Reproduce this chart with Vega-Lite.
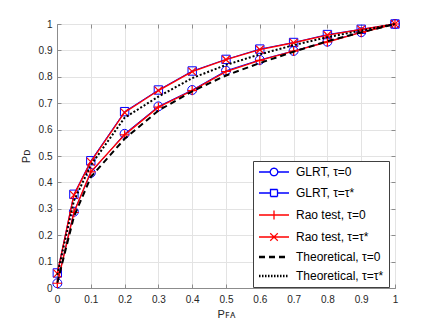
{
  "$schema": "https://vega.github.io/schema/vega-lite/v6.json",
  "width": 338,
  "height": 264,
  "autosize": {"type": "none"},
  "padding": {"left": 57, "top": 24, "right": 41, "bottom": 41},
  "background": "white",
  "config": {
    "font": "Liberation Sans",
    "view": {"stroke": "#8c8c8c", "strokeWidth": 1},
    "axis": {
      "labelFont": "Liberation Sans",
      "labelFontSize": 10,
      "labelColor": "#262626",
      "titleFont": "Liberation Sans",
      "titleFontSize": 11,
      "titleFontWeight": "normal",
      "titleColor": "#262626",
      "domainColor": "#8c8c8c",
      "tickColor": "#8c8c8c",
      "gridColor": "#e3e3e3",
      "gridWidth": 1
    },
    "legend": {
      "orient": "none",
      "legendX": 196,
      "legendY": 137,
      "padding": 5,
      "fillColor": "white",
      "strokeColor": "#404040",
      "symbolSize": 100,
      "symbolStrokeWidth": 1.3,
      "labelFont": "Liberation Sans",
      "labelFontSize": 12,
      "labelColor": "black",
      "labelOffset": 26,
      "rowPadding": 7,
      "title": null
    }
  },
  "data": {
    "values": [
      {"x": 0.001, "y": 0.018, "series": "GLRT, τ=0"},
      {"x": 0.05, "y": 0.289, "series": "GLRT, τ=0"},
      {"x": 0.1, "y": 0.436, "series": "GLRT, τ=0"},
      {"x": 0.2, "y": 0.584, "series": "GLRT, τ=0"},
      {"x": 0.3, "y": 0.688, "series": "GLRT, τ=0"},
      {"x": 0.4, "y": 0.75, "series": "GLRT, τ=0"},
      {"x": 0.5, "y": 0.823, "series": "GLRT, τ=0"},
      {"x": 0.6, "y": 0.864, "series": "GLRT, τ=0"},
      {"x": 0.7, "y": 0.898, "series": "GLRT, τ=0"},
      {"x": 0.8, "y": 0.933, "series": "GLRT, τ=0"},
      {"x": 0.9, "y": 0.969, "series": "GLRT, τ=0"},
      {"x": 1, "y": 1, "series": "GLRT, τ=0"},
      {"x": 0.001, "y": 0.057, "series": "GLRT, τ=τ*"},
      {"x": 0.05, "y": 0.355, "series": "GLRT, τ=τ*"},
      {"x": 0.1, "y": 0.482, "series": "GLRT, τ=τ*"},
      {"x": 0.2, "y": 0.668, "series": "GLRT, τ=τ*"},
      {"x": 0.3, "y": 0.75, "series": "GLRT, τ=τ*"},
      {"x": 0.4, "y": 0.822, "series": "GLRT, τ=τ*"},
      {"x": 0.5, "y": 0.866, "series": "GLRT, τ=τ*"},
      {"x": 0.6, "y": 0.905, "series": "GLRT, τ=τ*"},
      {"x": 0.7, "y": 0.93, "series": "GLRT, τ=τ*"},
      {"x": 0.8, "y": 0.96, "series": "GLRT, τ=τ*"},
      {"x": 0.9, "y": 0.98, "series": "GLRT, τ=τ*"},
      {"x": 1, "y": 1, "series": "GLRT, τ=τ*"},
      {"x": 0.001, "y": 0.018, "series": "Rao test, τ=0"},
      {"x": 0.05, "y": 0.286, "series": "Rao test, τ=0"},
      {"x": 0.1, "y": 0.44, "series": "Rao test, τ=0"},
      {"x": 0.2, "y": 0.58, "series": "Rao test, τ=0"},
      {"x": 0.3, "y": 0.685, "series": "Rao test, τ=0"},
      {"x": 0.4, "y": 0.748, "series": "Rao test, τ=0"},
      {"x": 0.5, "y": 0.82, "series": "Rao test, τ=0"},
      {"x": 0.6, "y": 0.862, "series": "Rao test, τ=0"},
      {"x": 0.7, "y": 0.897, "series": "Rao test, τ=0"},
      {"x": 0.8, "y": 0.932, "series": "Rao test, τ=0"},
      {"x": 0.9, "y": 0.968, "series": "Rao test, τ=0"},
      {"x": 1, "y": 1, "series": "Rao test, τ=0"},
      {"x": 0.001, "y": 0.055, "series": "Rao test, τ=τ*"},
      {"x": 0.05, "y": 0.352, "series": "Rao test, τ=τ*"},
      {"x": 0.1, "y": 0.478, "series": "Rao test, τ=τ*"},
      {"x": 0.2, "y": 0.665, "series": "Rao test, τ=τ*"},
      {"x": 0.3, "y": 0.748, "series": "Rao test, τ=τ*"},
      {"x": 0.4, "y": 0.82, "series": "Rao test, τ=τ*"},
      {"x": 0.5, "y": 0.865, "series": "Rao test, τ=τ*"},
      {"x": 0.6, "y": 0.903, "series": "Rao test, τ=τ*"},
      {"x": 0.7, "y": 0.929, "series": "Rao test, τ=τ*"},
      {"x": 0.8, "y": 0.958, "series": "Rao test, τ=τ*"},
      {"x": 0.9, "y": 0.979, "series": "Rao test, τ=τ*"},
      {"x": 1, "y": 1, "series": "Rao test, τ=τ*"},
      {"x": 0.001, "y": 0.02, "series": "Theoretical, τ=0"},
      {"x": 0.05, "y": 0.27, "series": "Theoretical, τ=0"},
      {"x": 0.1, "y": 0.42, "series": "Theoretical, τ=0"},
      {"x": 0.2, "y": 0.565, "series": "Theoretical, τ=0"},
      {"x": 0.3, "y": 0.672, "series": "Theoretical, τ=0"},
      {"x": 0.4, "y": 0.745, "series": "Theoretical, τ=0"},
      {"x": 0.5, "y": 0.805, "series": "Theoretical, τ=0"},
      {"x": 0.6, "y": 0.852, "series": "Theoretical, τ=0"},
      {"x": 0.7, "y": 0.895, "series": "Theoretical, τ=0"},
      {"x": 0.8, "y": 0.935, "series": "Theoretical, τ=0"},
      {"x": 0.9, "y": 0.968, "series": "Theoretical, τ=0"},
      {"x": 1, "y": 1, "series": "Theoretical, τ=0"},
      {"x": 0.001, "y": 0.05, "series": "Theoretical, τ=τ*"},
      {"x": 0.05, "y": 0.33, "series": "Theoretical, τ=τ*"},
      {"x": 0.1, "y": 0.465, "series": "Theoretical, τ=τ*"},
      {"x": 0.2, "y": 0.645, "series": "Theoretical, τ=τ*"},
      {"x": 0.3, "y": 0.725, "series": "Theoretical, τ=τ*"},
      {"x": 0.4, "y": 0.795, "series": "Theoretical, τ=τ*"},
      {"x": 0.5, "y": 0.845, "series": "Theoretical, τ=τ*"},
      {"x": 0.6, "y": 0.885, "series": "Theoretical, τ=τ*"},
      {"x": 0.7, "y": 0.92, "series": "Theoretical, τ=τ*"},
      {"x": 0.8, "y": 0.95, "series": "Theoretical, τ=τ*"},
      {"x": 0.9, "y": 0.975, "series": "Theoretical, τ=τ*"},
      {"x": 1, "y": 1, "series": "Theoretical, τ=τ*"}
    ]
  },
  "resolve": {"axis": {"x": "independent", "y": "independent"}},
  "layer": [
    {
      "encoding": {
        "x": {
          "field": "x", "type": "quantitative",
          "scale": {"domain": [0, 1], "nice": false},
          "axis": {"values": [0, 0.1, 0.2, 0.3, 0.4, 0.5, 0.6, 0.7, 0.8, 0.9, 1], "format": "~g", "title": "Pꜰᴀ", "tickSize": -4, "labelPadding": 10, "titlePadding": 4, "labelFlush": false}
        },
        "y": {
          "field": "y", "type": "quantitative",
          "scale": {"domain": [0, 1], "nice": false},
          "axis": {"values": [0, 0.1, 0.2, 0.3, 0.4, 0.5, 0.6, 0.7, 0.8, 0.9, 1], "format": "~g", "title": "Pᴅ", "tickSize": -4, "labelPadding": 9, "titlePadding": 7, "labelFlush": false}
        }
      },
      "layer": [
        {
          "transform": [{"filter": "indexof(datum.series, 'GLRT') == 0"}],
          "mark": {"type": "line", "color": "#0000ff", "strokeWidth": 1},
          "encoding": {"detail": {"field": "series"}}
        },
        {
          "transform": [{"filter": "datum.series == 'GLRT, τ=0'"}],
          "mark": {"type": "point", "shape": "circle", "filled": false, "color": "#0000ff", "size": 80, "strokeWidth": 1, "opacity": 1},
          "encoding": {}
        },
        {
          "transform": [{"filter": "datum.series == 'GLRT, τ=τ*'"}],
          "mark": {"type": "point", "shape": "square", "filled": false, "color": "#0000ff", "size": 70, "strokeWidth": 1, "opacity": 1},
          "encoding": {}
        },
        {
          "transform": [{"filter": "indexof(datum.series, 'Rao') == 0"}],
          "mark": {"type": "line", "color": "#ff0000", "strokeWidth": 1.4},
          "encoding": {"detail": {"field": "series"}}
        },
        {
          "transform": [{"filter": "datum.series == 'Rao test, τ=0'"}],
          "mark": {"type": "point", "shape": "M-1,0H1M0,-1V1", "filled": false, "color": "#ff0000", "size": 90, "strokeWidth": 1.2, "opacity": 1},
          "encoding": {}
        },
        {
          "transform": [{"filter": "datum.series == 'Rao test, τ=τ*'"}],
          "mark": {"type": "point", "shape": "M-1,-1L1,1M-1,1L1,-1", "filled": false, "color": "#ff0000", "size": 60, "strokeWidth": 1.2, "opacity": 1},
          "encoding": {}
        },
        {
          "transform": [{"filter": "datum.series == 'Theoretical, τ=0'"}],
          "mark": {"type": "line", "color": "black", "strokeWidth": 2, "strokeDash": [6, 4]},
          "encoding": {}
        },
        {
          "transform": [{"filter": "datum.series == 'Theoretical, τ=τ*'"}],
          "mark": {"type": "line", "color": "black", "strokeWidth": 2, "strokeDash": [2, 2]},
          "encoding": {}
        }
      ]
    },
    {
      "transform": [{"filter": "false"}],
      "mark": {"type": "point", "filled": false, "opacity": 1},
      "encoding": {
        "x": {"field": "x", "type": "quantitative", "axis": {"orient": "top", "values": [0, 0.1, 0.2, 0.3, 0.4, 0.5, 0.6, 0.7, 0.8, 0.9, 1], "labels": false, "title": null, "grid": false, "domain": false, "tickSize": -4}},
        "y": {"field": "y", "type": "quantitative", "axis": {"orient": "right", "values": [0, 0.1, 0.2, 0.3, 0.4, 0.5, 0.6, 0.7, 0.8, 0.9, 1], "labels": false, "title": null, "grid": false, "domain": false, "tickSize": -4}},
        "color": {
          "field": "series", "type": "nominal",
          "legend": {"labelExpr": "datum.label + '\u00a0\u00a0'"},
          "scale": {
            "domain": ["GLRT, τ=0", "GLRT, τ=τ*", "Rao test, τ=0", "Rao test, τ=τ*", "Theoretical, τ=0", "Theoretical, τ=τ*"],
            "range": ["#0000ff", "#0000ff", "#ff0000", "#ff0000", "black", "black"]
          }
        },
        "shape": {
          "field": "series", "type": "nominal",
          "legend": {"labelExpr": "datum.label + '\u00a0\u00a0'"},
          "scale": {
            "domain": ["GLRT, τ=0", "GLRT, τ=τ*", "Rao test, τ=0", "Rao test, τ=τ*", "Theoretical, τ=0", "Theoretical, τ=τ*"],
            "range": [
              "M-1,0H1.25A0.75,0.75 0 1,1 2.75,0A0.75,0.75 0 1,1 1.25,0M2.75,0H5",
              "M-1,0H1.3M2.7,0H5M1.3,-0.7H2.7V0.7H1.3Z",
              "M-1,0H5M2,-0.9V0.9",
              "M-1,0H5M1.25,-0.75L2.75,0.75M1.25,0.75L2.75,-0.75",
              "M-1,-0.13H5M-1,0.13H5",
              "M-1,-0.13H5M-1,0.13H5"
            ]
          }
        },
        "strokeDash": {
          "field": "series", "type": "nominal",
          "legend": {"labelExpr": "datum.label + '\u00a0\u00a0'"},
          "scale": {
            "domain": ["GLRT, τ=0", "GLRT, τ=τ*", "Rao test, τ=0", "Rao test, τ=τ*", "Theoretical, τ=0", "Theoretical, τ=τ*"],
            "range": [[1, 0], [1, 0], [1, 0], [1, 0], [6, 4], [1.5, 1.5]]
          }
        }
      }
    }
  ]
}
